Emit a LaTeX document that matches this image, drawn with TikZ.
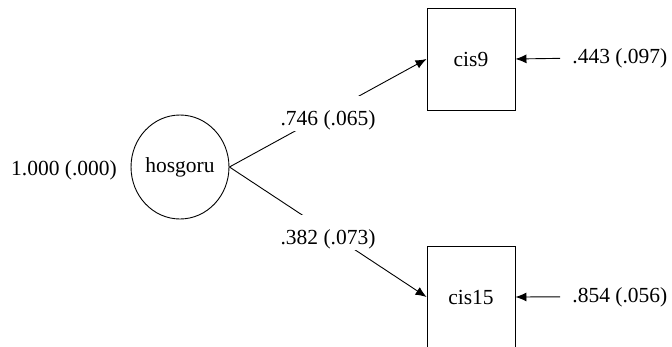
\documentclass[tikz,border=0pt]{standalone}
\usepackage{fontspec}
\setmainfont{Liberation Serif}
\usetikzlibrary{arrows.meta,shapes.geometric}
\begin{document}
\begin{tikzpicture}[x=1pt,y=-1pt,line width=.9pt,font=\fontsize{21.5}{24}\selectfont,
	>={Latex[length=11pt,width=9pt]},
	latent/.style={draw,ellipse,minimum width=90,minimum height=104,inner sep=0},
	observed/.style={draw,minimum width=88,minimum height=102},
	estimate/.style={fill=white,inner xsep=2pt,inner ysep=0pt,text height=30pt,text depth=5pt},
	resid/.style={anchor=base west,inner xsep=12pt}]
	\useasboundingbox(0,0)rectangle(672,346);
	\node[latent](hosgoru)at(180,167){hosgoru};
	\node[observed](cis9)at(471,59){cis9};
	\node[observed](cis15)at(471,297){cis15};
	\node(var)at(64,170){1.000 (.000)};
	\node[resid](r9)at(560,63.5){.443 (.097)};
	\node[resid](r15)at(560,302){.854 (.056)};
	\draw[->](hosgoru.east)--node[estimate]{.746 (.065)}(cis9.west);
	\draw[->](hosgoru.east)--node[estimate]{.382 (.073)}(cis15.west);
	\foreach \r/\c in{r9/cis9,r15/cis15}{
		\draw[->](\r.west)--(\c.east);
	}
\end{tikzpicture}
\end{document}
